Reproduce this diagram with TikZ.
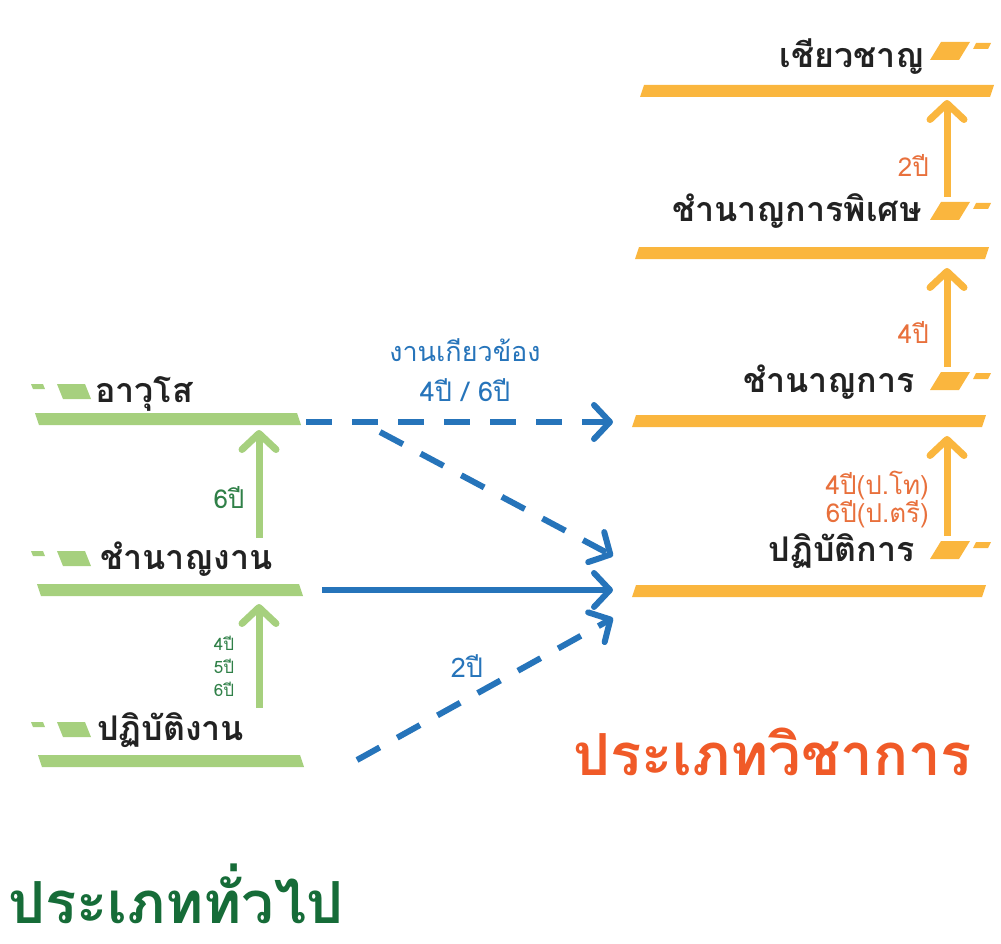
\documentclass[tikz,border=0pt]{standalone}
\usepackage{fontspec}
\newfontfamily\thai[Script=Thai]{Loma}
\usetikzlibrary{arrows.meta}

\definecolor{barg}{RGB}{166,208,126}
\definecolor{baro}{RGB}{250,182,62}
\definecolor{ink}{RGB}{34,34,34}
\definecolor{leafg}{RGB}{48,128,72}
\definecolor{deepg}{RGB}{22,108,56}
\definecolor{flowb}{RGB}{38,116,186}
\definecolor{yeartxt}{RGB}{232,112,60}
\definecolor{headtxt}{RGB}{240,90,40}

% bars and little flags
\newcommand{\gbar}[2]{\fill[barg] (#1-4,#2) -- (#1+258,#2) -- (#1+262,#2+12) -- (#1,#2+12) -- cycle;}
\newcommand{\obar}[2]{\fill[baro] (#1+4,#2) -- (#1+354,#2) -- (#1+350,#2+12) -- (#1,#2+12) -- cycle;}
\newcommand{\gflag}[1]{%
  \fill[barg] (31,#1-18) -- (43,#1-18) -- (45,#1-13) -- (33,#1-13) -- cycle;
  \fill[barg] (57,#1-18) -- (85,#1-18) -- (91,#1-3) -- (63,#1-3) -- cycle;}
\newcommand{\oflag}[1]{%
  \fill[baro] (941,#1-20) -- (970,#1-20) -- (959,#1-2) -- (930,#1-2) -- cycle;
  \fill[baro] (976,#1-19) -- (991,#1-19) -- (988,#1-13) -- (973,#1-13) -- cycle;}

\begin{document}
\begin{tikzpicture}[x=1pt,y=-1pt,
  rank/.style={font=\thai\bfseries\fontsize{34}{34}\selectfont,text=ink,inner sep=0pt},
  head/.style={font=\thai\bfseries\fontsize{58}{58}\selectfont,inner sep=0pt,text depth=0pt},
  yr/.style={font=\thai\fontsize{26}{28}\selectfont,inner sep=0pt},
  upg/.style={draw=barg,line width=7pt,-{Straight Barb[length=16pt,width=34pt,round]}},
  upo/.style={draw=baro,line width=7pt,-{Straight Barb[length=16pt,width=34pt,round]}},
  move/.style={draw=flowb,line width=6pt,-{Straight Barb[length=16pt,width=34pt,round]}},
  movedash/.style={move,dash pattern=on 26pt off 20pt}]
  \useasboundingbox (0,0) rectangle (1001,944);

  % general track (left)
  \gbar{39}{413}
  \gbar{41}{584}
  \gbar{42}{755}
  \gflag{402}
  \gflag{569}
  \gflag{740}
  \node[rank,anchor=base west] (senior) at (95,402) {อาวุโส};
  \node[rank,anchor=base west] (skilled) at (100,569) {ชำนาญงาน};
  \node[rank,anchor=base west] (worker) at (97,740) {ปฏิบัติงาน};

  \coordinate (g1top) at (259,430);
  \coordinate (g1bot) at (259,538);
  \coordinate (g2top) at (259,604);
  \coordinate (g2bot) at (259,708);
  \draw[upg] (g1bot) -- (g1top);
  \draw[upg] (g2bot) -- (g2top);
  \node[yr,text=leafg] (y6) at (229,498) {6ปี};
  \node[yr,text=leafg,font=\thai\fontsize{17}{23}\selectfont,align=center] (y456) at (224,666) {4ปี\\5ปี\\6ปี};

  % academic track (right)
  \obar{640}{85}
  \obar{635}{247}
  \obar{632}{415}
  \obar{632}{585}
  \oflag{62}
  \oflag{222}
  \oflag{392}
  \oflag{561}
  \node[rank,anchor=base east] (expert) at (925,68) {เชียวชาญ};
  \node[rank,anchor=base east] (special) at (922,222) {ชำนาญการพิเศษ};
  \node[rank,anchor=base east] (profic) at (915,392) {ชำนาญการ};
  \node[rank,anchor=base east] (practit) at (915,561) {ปฏิบัติการ};

  \coordinate (o1top) at (947,100);
  \coordinate (o1bot) at (947,197);
  \coordinate (o2top) at (947,268);
  \coordinate (o2bot) at (947,367);
  \coordinate (o3top) at (947,436);
  \coordinate (o3bot) at (947,536);
  \draw[upo] (o1bot) -- (o1top);
  \draw[upo] (o2bot) -- (o2top);
  \draw[upo] (o3bot) -- (o3top);
  \node[yr,text=yeartxt,anchor=east] (oy2) at (929,165) {2ปี};
  \node[yr,text=yeartxt,anchor=east] (oy4) at (929,332) {4ปี};
  \node[yr,text=yeartxt,anchor=east,align=right] (oy46) at (929,500) {4ปี(ป.โท)\\6ปี(ป.ตรี)};

  % crossing over
  \coordinate (s1) at (306,422);
  \coordinate (s2) at (380,432);
  \coordinate (s3) at (322,590);
  \coordinate (s4) at (357,760);
  \coordinate (t1) at (613,422);
  \coordinate (t2) at (613,556);
  \coordinate (t3) at (613,590);
  \coordinate (t4) at (613,618);
  \draw[movedash] (s1) -- (t1);
  \draw[movedash] (s2) -- (t2);
  \draw[move] (s3) -- (t3);
  \draw[movedash] (s4) -- (t4);
  \node[yr,text=flowb,align=center,font=\thai\fontsize{27}{40}\selectfont] (rel) at (465,370) {งานเกียวข้อง\\4ปี / 6ปี};
  \node[yr,text=flowb,font=\thai\fontsize{27}{30}\selectfont] (by2) at (467,666) {2ปี};

  % titles
  \node[head,text=headtxt,anchor=base west] (acad) at (573,775) {ประเภทวิชาการ};
  \node[head,text=deepg,anchor=base west] (gen) at (8,923) {ประเภททั่วไป};
\end{tikzpicture}
\end{document}
